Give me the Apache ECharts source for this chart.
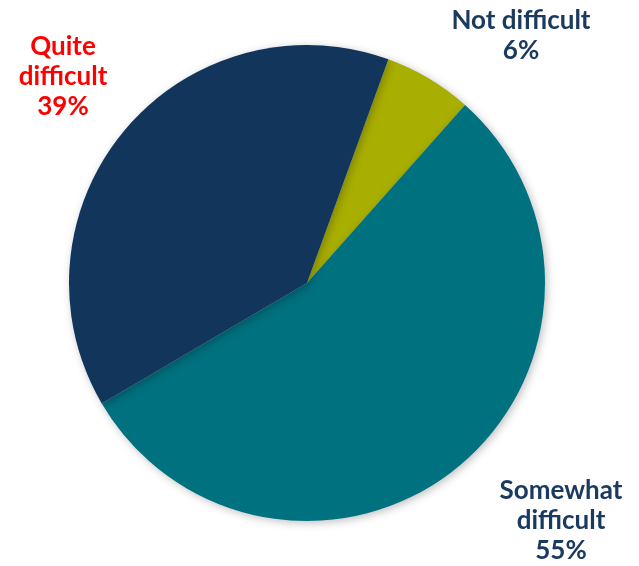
<!DOCTYPE html>
<html>
<head>
<meta charset="utf-8">
<script src="https://cdn.jsdelivr.net/npm/echarts@6/dist/echarts.min.js"></script>
<style>
  html, body { margin: 0; padding: 0; background: #fff; }
  #chart { width: 639px; height: 566px; }
</style>
</head>
<body>
<div id="chart"></div>
<script>
// data
const categories = ['Not difficult', 'Somewhat\ndifficult', 'Quite\ndifficult']
const values = [6, 55, 39]
const colors = ['#A9AF00', '#00717F', '#12355B']
const labelColors = ['#1B3A60', '#1B3A60', '#FF0000']
// where each label sits (centre of the text block)
const labelPos = [[521, 36], [561, 521], [63, 77]]

const chart = echarts.init(document.getElementById('chart'))
chart.setOption({
  backgroundColor: '#fff',
  animation: false,
  series: [{
    type: 'pie',
    center: [307, 283],
    radius: 238,
    startAngle: 70,
    clockwise: true,
    avoidLabelOverlap: false,
    itemStyle: {
      borderWidth: 0,
      shadowBlur: 8,
      shadowColor: 'rgba(0,0,0,0.25)',
      shadowOffsetX: 2,
      shadowOffsetY: 2
    },
    label: {
      show: true,
      position: 'outside',
      formatter: p => p.name + '\n' + p.value + '%',
      fontFamily: 'Lato',
      fontWeight: 'bold',
      fontSize: 26,
      lineHeight: 30,
      align: 'center'
    },
    labelLine: { show: false },
    labelLayout: p => ({
      x: labelPos[p.dataIndex][0],
      y: labelPos[p.dataIndex][1],
      align: 'center',
      verticalAlign: 'middle'
    }),
    data: categories.map((c, i) => ({
      name: c,
      value: values[i],
      itemStyle: { color: colors[i] },
      label: { color: labelColors[i] }
    }))
  }]
})
</script>
</body>
</html>
